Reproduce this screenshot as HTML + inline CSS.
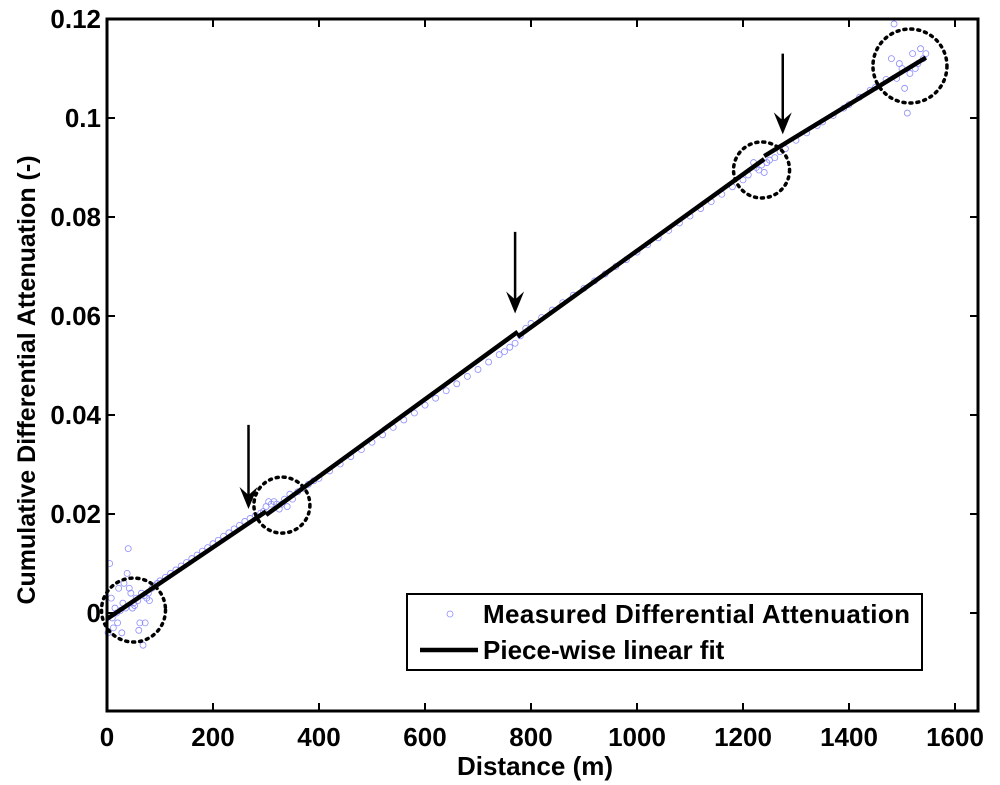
<!DOCTYPE html>
<html><head><meta charset="utf-8"><style>
html,body{margin:0;padding:0;background:#fff;}
svg{display:block;font-family:"Liberation Sans",Arial,sans-serif;font-weight:bold;}
</style></head><body>
<svg id="chart" width="1000" height="785" viewBox="0 0 1000 785">
<g id="marks"></g>
<g id="axes"></g>
</svg>
<script>
const xTicks=[0,200,400,600,800,1000,1200,1400,1600];
const yTicks=[0,0.02,0.04,0.06,0.08,0.1,0.12];
const yTickLabels=["0","0.02","0.04","0.06","0.08","0.1","0.12"];
const measX=[2,5,8,10,12,15,18,20,22,25,28,30,32,35,38,40,42,45,48,50,52,55,58,60,62,65,68,70,72,75,78,80,85,90,95,100,110,120,130,140,150,160,170,180,190,200,210,220,230,240,250,260,270,280,290,295,300,305,310,315,320,325,330,335,340,345,350,360,370,380,390,400,420,440,460,480,500,520,540,560,580,600,620,640,660,680,700,720,740,750,760,770,780,790,800,820,840,860,880,900,920,940,960,980,1000,1020,1040,1060,1080,1100,1120,1140,1160,1180,1200,1210,1220,1225,1230,1235,1240,1245,1250,1260,1270,1280,1300,1320,1340,1350,1370,1390,1400,1420,1440,1450,1470,1480,1485,1490,1495,1500,1505,1510,1515,1520,1525,1530,1535,1540,1545];
const measY=[-0.004,0.010,0.003,-0.001,-0.003,0.001,0.000,-0.002,0.005,0.0005,-0.004,0.002,0.006,0.001,0.008,0.013,0.005,0.004,0.001,0.002,0.0015,0.003,0.0025,-0.0035,-0.002,0.004,-0.0065,0.0035,-0.002,0.003,0.004,0.0025,0.005,0.0055,0.006,0.0065,0.0072,0.008,0.0087,0.0095,0.0102,0.011,0.0117,0.0125,0.0132,0.014,0.0147,0.0155,0.0162,0.017,0.0177,0.0185,0.0191,0.0197,0.0202,0.0205,0.0215,0.0225,0.022,0.0225,0.022,0.021,0.022,0.023,0.0215,0.024,0.023,0.0245,0.0252,0.026,0.0267,0.0272,0.0287,0.0301,0.0316,0.033,0.0345,0.036,0.0375,0.039,0.0404,0.042,0.0434,0.0449,0.0463,0.0478,0.0492,0.0507,0.0522,0.0528,0.0537,0.0545,0.056,0.0575,0.0585,0.0597,0.0612,0.0627,0.0642,0.0656,0.0671,0.0685,0.07,0.0714,0.0729,0.0744,0.0758,0.0773,0.0788,0.0802,0.0817,0.0831,0.0846,0.0861,0.0875,0.0885,0.091,0.090,0.0895,0.0905,0.089,0.091,0.0915,0.092,0.0932,0.0938,0.0955,0.097,0.0985,0.0992,0.1005,0.102,0.1027,0.1042,0.1056,0.1062,0.1078,0.112,0.119,0.108,0.111,0.110,0.106,0.101,0.109,0.113,0.110,0.111,0.114,0.112,0.113];
const fitX=[[0,300],[300,775],[775,1240],[1240,1545]];
const fitY=[[-0.0012,0.0205],[0.0198,0.0568],[0.0558,0.0917],[0.0923,0.1122]];
const arrowX=[267,770,1275];
const arrowYTop=[0.038,0.077,0.113];
const arrowYTip=[0.021,0.0605,0.0967];
const circX=[50,330,1235,1515];
const circY=[0.0006,0.0218,0.0895,0.1105];
const circR=[32,28,28,37];

const X0=107,X1=978,Y0=711,Y1=19;
const xs=v=>107+v*0.53;
const ys=v=>613-v*4950;
const NS="http://www.w3.org/2000/svg";
function mk(t,a,p){const e=document.createElementNS(NS,t);for(const k in a)e.setAttribute(k,a[k]);p.appendChild(e);return e;}
const marks=document.getElementById('marks'),axes=document.getElementById('axes');

for(let i=0;i<measX.length;i++){
 const c=mk('circle',{cx:xs(measX[i]),cy:ys(measY[i]),r:3,fill:'none',stroke:'#8c8cff','stroke-width':0.8},marks);
 
 
}
for(let i=0;i<fitX.length;i++){
 const l=mk('line',{x1:xs(fitX[i][0]),y1:ys(fitY[i][0]),x2:xs(fitX[i][1]),y2:ys(fitY[i][1]),stroke:'#000','stroke-width':4.5},marks);
 
 
}
for(let i=0;i<circX.length;i++){
 const c=mk('circle',{cx:xs(circX[i]),cy:ys(circY[i]),r:circR[i],fill:'none',stroke:'#000','stroke-width':3.5,'stroke-dasharray':'2,5','stroke-linecap':'round'},marks);
 
 
}
for(let i=0;i<arrowX.length;i++){
 const x=xs(arrowX[i]),yt=ys(arrowYTop[i]),yb=ys(arrowYTip[i]);
 const g=mk('g',{},marks);
 
 
 mk('line',{x1:x,y1:yt,x2:x,y2:yb-12,stroke:'#000','stroke-width':2.5},g);
 mk('path',{d:`M${x-9},${yb-22} L${x},${yb} L${x+9},${yb-22} L${x},${yb-14} Z`,fill:'#000'},g);
}
const fr=mk('rect',{x:X0,y:Y1,width:X1-X0,height:Y0-Y1,fill:'none',stroke:'#000','stroke-width':3},axes);


xTicks.forEach(v=>{
 const x=xs(v);
 mk('line',{x1:x,y1:Y0,x2:x,y2:Y0-8,stroke:'#000','stroke-width':2},axes);
 mk('line',{x1:x,y1:Y1,x2:x,y2:Y1+8,stroke:'#000','stroke-width':2},axes);
 const t=mk('text',{x:x,y:746,'text-anchor':'middle','font-size':26},axes);t.textContent=v;
 
 
});
yTicks.forEach((v,i)=>{
 const y=ys(v);
 mk('line',{x1:X0,y1:y,x2:X0+8,y2:y,stroke:'#000','stroke-width':2},axes);
 mk('line',{x1:X1,y1:y,x2:X1-8,y2:y,stroke:'#000','stroke-width':2},axes);
 const t=mk('text',{x:101,y:y+9,'text-anchor':'end','font-size':26},axes);t.textContent=yTickLabels[i];
 
 
});
</script>
<svg style="position:absolute;left:0;top:0" width="1000" height="785">
<text x="535" y="775" text-anchor="middle" font-size="26">Distance (m)</text>
<text transform="translate(35,380) rotate(-90)" text-anchor="middle" font-size="25">Cumulative Differential Attenuation (-)</text>
<g>
<rect x="407" y="594" width="515" height="76" fill="#fff" stroke="#000" stroke-width="2"/>
<circle cx="450" cy="614" r="3" fill="none" stroke="#8c8cff" stroke-width="0.8"/>
<text x="483" y="623" font-size="26" textLength="427">Measured Differential Attenuation</text>
<line x1="420" y1="650" x2="478" y2="650" stroke="#000" stroke-width="4.5"/>
<text x="483" y="659" font-size="26">Piece-wise linear fit</text>
</g>
</svg>
</body></html>
